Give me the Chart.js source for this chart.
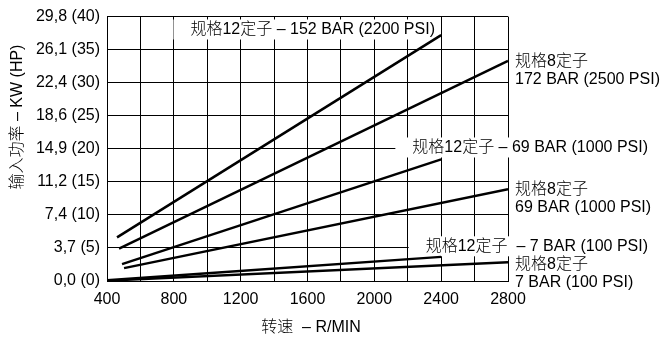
<!DOCTYPE html>
<html>
<head>
<meta charset="utf-8">
<script src="https://cdn.jsdelivr.net/npm/chart.js@4/dist/chart.umd.min.js"></script>
<style>
  html, body { margin: 0; padding: 0; background: #fff; }
  #powerChart { display: block; }
</style>
</head>
<body>
<canvas id="powerChart" width="660" height="340"></canvas>
<script>
// tick labels
const speedTicks = [400, 800, 1200, 1600, 2000, 2400, 2800];
const powerTicks = ['0,0 (0)', '3,7 (5)', '7,4 (10)', '11,2 (15)', '14,9 (20)', '18,6 (25)', '22,4 (30)', '26,1 (35)', '29,8 (40)'];

// series: speed (r/min) and input power (HP)
const s12_152_rpm = [460, 2400];
const s12_152_hp = [6.6, 37.2];
const s8_172_rpm = [472, 2800];
const s8_172_hp = [4.9, 33.3];
const s12_69_rpm = [490, 2400];
const s12_69_hp = [2.55, 18.4];
const s8_69_rpm = [502, 2800];
const s8_69_hp = [1.95, 13.9];
const s12_7_rpm = [400, 2400];
const s12_7_hp = [0.1, 3.65];
const s8_7_rpm = [400, 2800];
const s8_7_hp = [0.05, 2.85];

const FONT = '"Liberation Sans", "Noto Sans CJK SC", sans-serif';

function pts(xs, ys) {
    return xs.map((x, i) => ({ x: x, y: ys[i] }));
}

function series(label, xs, ys) {
    return {
        label: label,
        data: pts(xs, ys),
        borderColor: '#000',
        borderWidth: 2.5,
        pointRadius: 0,
        fill: false,
        tension: 0
    };
}

// curve labels; x/y are in data units (r/min, HP)
const notes = [
    { lines: ['规格12定子 – 152 BAR (2200 PSI)'], x: 2363, y: 38.05, align: 'right', box: true },
    { lines: ['规格8定子', '172 BAR (2500 PSI)'], x: 2842, y: 33.26, align: 'left' },
    { lines: ['规格12定子 – 69 BAR (1000 PSI)'], x: 3638, y: 20.2, align: 'right', box: true },
    { lines: ['规格8定子', '69 BAR (1000 PSI)'], x: 2842, y: 13.9, align: 'left' },
    { lines: ['规格12定子  – 7 BAR (100 PSI)'], x: 3638, y: 5.25, align: 'right', box: true },
    { lines: ['规格8定子', '7 BAR (100 PSI)'], x: 2842, y: 2.5, align: 'left' }
];

const notesPlugin = {
    id: 'notes',
    beforeDatasetsDraw(chart) {
        const ctx = chart.ctx;
        const xs = chart.scales.x, ys = chart.scales.y;
        ctx.save();
        ctx.font = '300 16px ' + FONT;
        ctx.textBaseline = 'middle';
        notes.forEach(n => {
            const px = xs.getPixelForValue(n.x);
            const py = ys.getPixelForValue(n.y);
            if (n.box) {
                const w = ctx.measureText(n.lines[0]).width;
                const left = n.align === 'right' ? px - w : px;
                ctx.fillStyle = '#fff';
                ctx.fillRect(left - 17, py - 10, w + 20, 20);
            }
            ctx.fillStyle = '#000';
            ctx.textAlign = n.align;
            n.lines.forEach((t, i) => ctx.fillText(t, px, py + i * 18));
        });
        ctx.restore();
    },
    afterDraw(chart) {
        const ctx = chart.ctx;
        ctx.save();
        ctx.fillStyle = '#000';
        ctx.textAlign = 'center';
        ctx.textBaseline = 'middle';
        ctx.font = '300 16px ' + FONT;
        ctx.fillText('转速  – R/MIN', 311, 328);
        ctx.translate(18, 117);
        ctx.rotate(-Math.PI / 2);
        ctx.fillText('输入功率 – KW (HP)', 0, 0);
        ctx.restore();
    }
};

Chart.defaults.font.family = FONT;
Chart.defaults.font.size = 16;
Chart.defaults.color = '#000';

let powerChart = new Chart(document.getElementById('powerChart').getContext('2d'), {
    type: 'line',
    data: {
        datasets: [
            series('12 / 152 bar', s12_152_rpm, s12_152_hp),
            series('8 / 172 bar', s8_172_rpm, s8_172_hp),
            series('12 / 69 bar', s12_69_rpm, s12_69_hp),
            series('8 / 69 bar', s8_69_rpm, s8_69_hp),
            series('12 / 7 bar', s12_7_rpm, s12_7_hp),
            series('8 / 7 bar', s8_7_rpm, s8_7_hp)
        ]
    },
    options: {
        responsive: false,
        animation: false,
        devicePixelRatio: 1,
        layout: { padding: { top: 14, right: 152, left: 0, bottom: 0 } },
        plugins: {
            legend: { display: false },
            tooltip: { enabled: false }
        },
        scales: {
            x: {
                type: 'linear',
                min: 400,
                max: 2800,
                afterFit: s => { s.height = 59; },
                grid: { color: '#000', lineWidth: 1, drawTicks: false },
                border: { display: true, color: '#000', width: 1 },
                ticks: {
                    stepSize: 200,
                    padding: 9,
                    maxRotation: 0,
                    autoSkip: false,
                    callback: v => speedTicks.includes(v) ? String(v) : ''
                }
            },
            y: {
                min: 0,
                max: 40,
                afterFit: s => { s.width = 107; },
                grid: { color: '#000', lineWidth: 1, drawTicks: false },
                border: { display: true, color: '#000', width: 1 },
                ticks: {
                    stepSize: 5,
                    padding: 7,
                    callback: (v, i) => powerTicks[i]
                }
            }
        }
    },
    plugins: [notesPlugin]
});
</script>
</body>
</html>
